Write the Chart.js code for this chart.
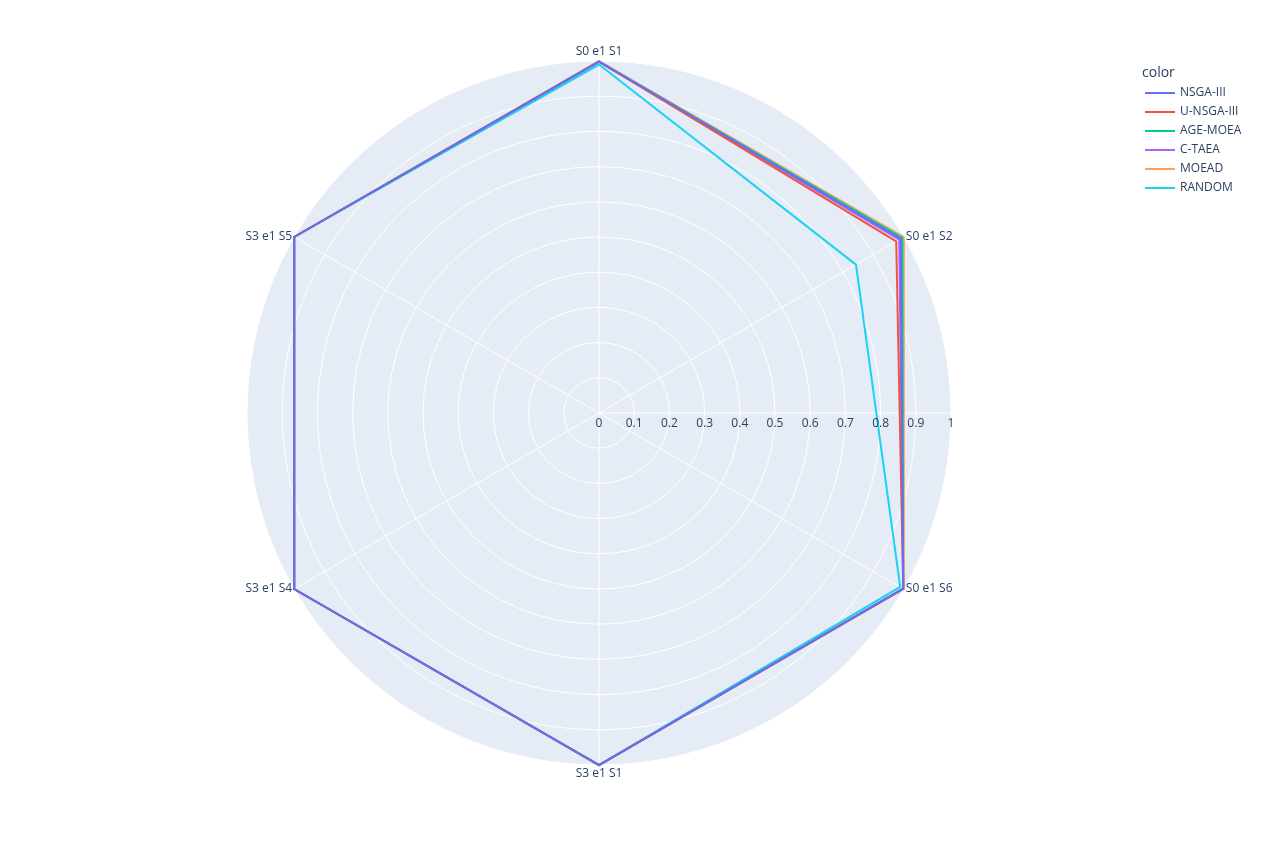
<!DOCTYPE html>
<html><head><meta charset="utf-8">
<script src="https://cdn.jsdelivr.net/npm/chart.js@4"></script>
<style>html,body{margin:0;padding:0;background:#fff}#w{width:1264px;height:846px}</style>
</head><body><div id="w"><canvas id="c"></canvas></div>
<script>
const categories = ["S0 e1 S1","S0 e1 S2","S0 e1 S6","S3 e1 S1","S3 e1 S4","S3 e1 S5"];
const seriesNames = ["NSGA-III","U-NSGA-III","AGE-MOEA","C-TAEA","MOEAD","RANDOM"];
const seriesColors = ["#636efa","#EF553B","#00cc96","#ab63fa","#FFA15A","#19d3f3"];
const nsga3 = [0.998,0.99,0.998,1.0,1.0,1.0];
const unsga3 = [0.998,0.975,0.998,1.0,1.0,1.0];
const agemoea = [0.998,0.995,0.998,1.0,1.0,1.0];
const ctaea = [0.998,0.985,0.998,1.0,1.0,1.0];
const moead = [1.0,1.0,1.0,1.0,1.0,1.0];
const random = [0.99,0.843,0.988,1.0,1.0,1.0];
const tickLabels = ["0","0.1","0.2","0.3","0.4","0.5","0.6","0.7","0.8","0.9","1"];
const allData = [nsga3,unsga3,agemoea,ctaea,moead,random];
const FONT = '12px "Open Sans", "Liberation Sans", sans-serif';
const TXT = '#2a3f5f';

const plug = {
  id:'plotlyish',
  beforeDatasetsDraw(chart){
    // nothing
  },
  beforeDraw(chart){
    const s = chart.scales.r, ctx = chart.ctx;
    ctx.save();
    ctx.fillStyle = '#E5ECF6';
    ctx.beginPath(); ctx.arc(s.xCenter,s.yCenter,s.drawingArea,0,Math.PI*2); ctx.fill();
    ctx.restore();
  },
  afterDraw(chart){
    const s = chart.scales.r, ctx = chart.ctx;
    ctx.save();
    ctx.font = FONT; ctx.fillStyle = TXT;
    // tick labels along radial axis (pointing right)
    ctx.textAlign='center'; ctx.textBaseline='top';
    tickLabels.forEach(t=>{
      const d = s.getDistanceFromCenterForValue(parseFloat(t));
      ctx.fillText(t, s.xCenter + d, s.yCenter + 5);
    });
    // category labels
    categories.forEach((c,i)=>{
      const p = s.getPointPosition(i, s.drawingArea + 6);
      const ang = -Math.PI/2 + i*2*Math.PI/categories.length;
      const cx = Math.cos(ang);
      ctx.textAlign = Math.abs(cx)<0.01 ? 'center' : (cx>0 ? 'left':'right');
      const sy = Math.sin(ang);
      ctx.textBaseline = Math.abs(cx)<0.01 ? (sy<0?'bottom':'top') : 'middle';
      let x = s.xCenter + (s.drawingArea)*cx + (Math.abs(cx)<0.01?0:(cx>0?2:-2));
      let y = s.yCenter + (s.drawingArea)*sy + (Math.abs(cx)<0.01?(sy<0?-3:3):0);
      ctx.fillText(c, x, y);
    });
    // legend
    ctx.textAlign='left'; ctx.textBaseline='middle';
    ctx.font = '14px "Open Sans", "Liberation Sans", sans-serif';
    ctx.fillText('color', 1142, 73);
    ctx.font = FONT;
    seriesNames.forEach((n,i)=>{
      const y = 93 + i*19;
      ctx.strokeStyle = seriesColors[i]; ctx.lineWidth = 2;
      ctx.beginPath(); ctx.moveTo(1145,y); ctx.lineTo(1175,y); ctx.stroke();
      ctx.fillText(n, 1180, y);
    });
    ctx.restore();
  },
  beforeDatasetsDraw(chart){
    const s = chart.scales.r, ctx = chart.ctx;
    ctx.save(); ctx.strokeStyle='#fff'; ctx.lineWidth=1;
    ctx.beginPath(); ctx.moveTo(s.xCenter,s.yCenter); ctx.lineTo(s.xCenter+s.drawingArea,s.yCenter); ctx.stroke();
    ctx.restore();
  }
};

new Chart(document.getElementById('c'),{
  type:'radar',
  data:{labels:categories,datasets:seriesNames.map((n,i)=>({label:n,data:allData[i],borderColor:seriesColors[i],backgroundColor:'transparent',borderWidth:2,pointRadius:0,fill:false,tension:0}))},
  options:{
    responsive:true,maintainAspectRatio:false,animation:false,
    layout:{padding:{left:247,right:313,top:61,bottom:81}},
    plugins:{legend:{display:false},tooltip:{enabled:false}},
    scales:{r:{min:0,max:1,beginAtZero:true,
      ticks:{display:false,stepSize:0.1},
      pointLabels:{display:false},
      grid:{circular:true,color:'#fff',lineWidth:1},
      angleLines:{color:'#fff',lineWidth:1}}}
  },
  plugins:[plug]
});
</script></body></html>
